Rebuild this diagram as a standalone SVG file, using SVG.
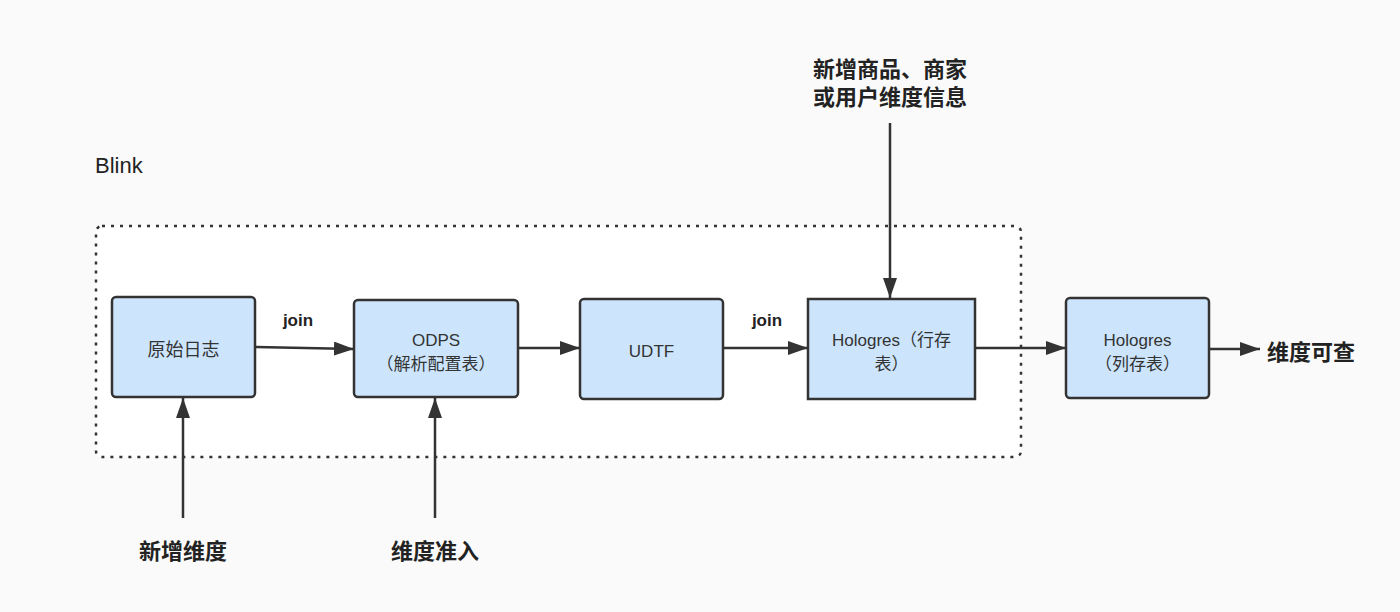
<svg xmlns="http://www.w3.org/2000/svg" width="1400" height="612" viewBox="0 0 1400 612">
<defs>
<marker id="arrow" viewBox="0 0 20 14" refX="20" refY="7" markerWidth="20" markerHeight="14" markerUnits="userSpaceOnUse" orient="auto">
<path d="M0,0 L20,7 L0,14 z" fill="#333"/>
</marker>
<style>
.node{fill:#cce5fc;stroke:#333;stroke-width:2.5}
.nt{font-family:"Liberation Sans","Noto Sans CJK SC",sans-serif;font-size:17px;fill:#333;text-anchor:middle}
.lbl{font-family:"Liberation Sans","Noto Sans CJK SC",sans-serif;font-size:22px;font-weight:bold;fill:#222}
.join{font-family:"Liberation Sans","Noto Sans CJK SC",sans-serif;font-size:17px;font-weight:bold;fill:#222;text-anchor:middle}
.edge{stroke:#333;stroke-width:2.5;fill:none;marker-end:url(#arrow)}
</style>
</defs>
<rect width="1400" height="612" fill="#fafafa"/>
<rect x="96" y="226" width="925" height="231" rx="6" fill="#fff" stroke="#333" stroke-width="2.5" stroke-dasharray="3,6"/>
<text x="95" y="173" font-family="Liberation Sans, sans-serif" font-size="22" fill="#222">Blink</text>

<g id="connectors">
<line class="edge" x1="256" y1="347" x2="354" y2="349"/>
<line class="edge" x1="518" y1="348" x2="580" y2="348"/>
<line class="edge" x1="723" y1="348" x2="808" y2="348"/>
<line class="edge" x1="975" y1="348" x2="1066" y2="348"/>
<line class="edge" x1="1209" y1="349" x2="1260" y2="349"/>
<line class="edge" x1="183" y1="518" x2="183" y2="398"/>
<line class="edge" x1="435" y1="518" x2="435" y2="398"/>
<line class="edge" x1="890" y1="123" x2="890" y2="298"/>
<text class="join" x="298" y="326">join</text>
<text class="join" x="767" y="326">join</text>
</g>

<g id="n1"><rect class="node" x="112" y="297" width="143" height="100" rx="4"/><text class="nt" x="183.500" y="356" style="font-size:18px">原始日志</text></g>
<g id="n2"><rect class="node" x="354" y="300" width="164" height="97" rx="4"/><text class="nt" x="436" y="346">ODPS</text><text class="nt" x="436" y="370">（解析配置表）</text></g>
<g id="n3"><rect class="node" x="580" y="299" width="143" height="100" rx="4"/><text class="nt" x="651.500" y="357">UDTF</text></g>
<g id="n4"><rect class="node" x="808" y="299" width="167" height="100"/><text class="nt" x="891.500" y="346">Hologres（行存</text><text class="nt" x="891.500" y="370">表）</text></g>
<g id="n5"><rect class="node" x="1066" y="298" width="143" height="100" rx="4"/><text class="nt" x="1137.500" y="346">Hologres</text><text class="nt" x="1137.500" y="370">（列存表）</text></g>

<g id="l1"><text class="lbl" x="183" y="559" text-anchor="middle">新增维度</text></g>
<g id="l2"><text class="lbl" x="435" y="559" text-anchor="middle">维度准入</text></g>
<g id="l3"><text class="lbl" x="890" y="77" text-anchor="middle">新增商品、商家</text><text class="lbl" x="890" y="105" text-anchor="middle">或用户维度信息</text></g>
<g id="l4"><text class="lbl" x="1267" y="360">维度可查</text></g>
</svg>
